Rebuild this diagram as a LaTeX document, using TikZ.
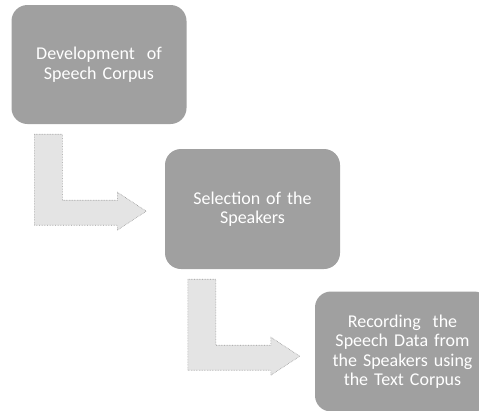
\documentclass[tikz,border=0pt]{standalone}
\usepackage{fontspec}
\setmainfont{Carlito}
\usetikzlibrary{calc}
\definecolor{boxgray}{RGB}{160,160,160}
\definecolor{arrowfill}{RGB}{228,228,228}
\definecolor{arrowline}{RGB}{150,150,150}
\tikzset{
  stagebox/.style={draw=none, fill=boxgray, rounded corners=16pt, minimum width=175pt,
    minimum height=120pt, inner sep=4pt, align=center, text=white,
    font=\fontsize{18}{19.5}\selectfont, text width=165pt},
  bentarrow/.style={fill=arrowfill, draw=arrowline, densely dotted, line width=0.6pt}
}
\newcommand\bentarr[1]{%
  \draw[bentarrow] ($(#1.south west)+(23,10)$) -- ($(#1.south west)+(51,10)$)
    -- ($(#1.south west)+(51,76)$) -- ($(#1.south west)+(106,76)$)
    -- ($(#1.south west)+(106,68)$) -- ($(#1.south west)+(135,87)$)
    -- ($(#1.south west)+(106,106)$) -- ($(#1.south west)+(106,101)$)
    -- ($(#1.south west)+(23,101)$) -- cycle;}
\begin{document}
\begin{tikzpicture}[x=1pt, y=-1pt]
\useasboundingbox (0,0) rectangle (479,410);
\clip (0,0) rectangle (479,410);
\node[stagebox, minimum height=119pt] (b1) at (99,64.5) {Development\ \ of\\Speech Corpus};
\node[stagebox] (b2) at (252.5,209) {Selection of the\\Speakers};
\node[stagebox] (b3) at (402.5,351.5) {Recording\ \ the\\Speech Data from\\the Speakers using\\the Text Corpus};
\bentarr{b1}
\bentarr{b2}
\end{tikzpicture}
\end{document}
